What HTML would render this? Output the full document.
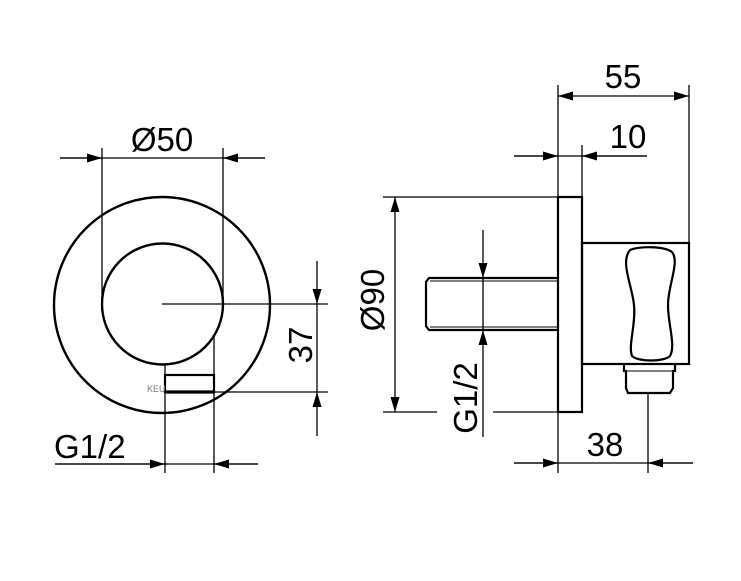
<!DOCTYPE html>
<html><head><meta charset="utf-8"><style>html,body{margin:0;padding:0;background:#fff}</style></head><body>
<svg width="741" height="576" viewBox="0 0 741 576" xmlns="http://www.w3.org/2000/svg">
<defs>
<marker id="a" viewBox="0 0 10 6" refX="10" refY="3" markerWidth="24" markerHeight="9" markerUnits="userSpaceOnUse" orient="auto"><path d="M0,0L10,3L0,6Z" fill="#000"/></marker>
</defs>
<g fill="none" stroke="#000" stroke-width="2.4">
<circle cx="162" cy="305" r="108"/>
<circle cx="162.5" cy="304" r="60.5"/>
</g>
<g stroke="#000" stroke-width="1.3" fill="none">
<!-- left view -->
<line x1="102" y1="148" x2="102" y2="304"/>
<line x1="223" y1="148" x2="223" y2="304"/>
<line x1="60" y1="158" x2="265" y2="158"/>
<line x1="60" y1="158" x2="102" y2="158" marker-end="url(#a)"/>
<line x1="265" y1="158" x2="223" y2="158" marker-end="url(#a)"/>
<line x1="162" y1="304" x2="328" y2="304"/>
<line x1="165" y1="364" x2="165" y2="473"/>
<line x1="214" y1="335" x2="214" y2="473"/>
<line x1="214" y1="392" x2="328" y2="392"/>
<line x1="317" y1="261" x2="317" y2="304" marker-end="url(#a)"/>
<line x1="317" y1="436" x2="317" y2="392" marker-end="url(#a)"/>
<line x1="317" y1="304" x2="317" y2="392"/>
<line x1="55" y1="464" x2="258" y2="464"/>
<line x1="55" y1="464" x2="165" y2="464" marker-end="url(#a)"/>
<line x1="258" y1="464" x2="214" y2="464" marker-end="url(#a)"/>
<!-- right view -->
<line x1="558" y1="85" x2="558" y2="473"/>
<line x1="689" y1="85" x2="689" y2="243"/>
<line x1="623" y1="96" x2="558" y2="96" marker-end="url(#a)"/>
<line x1="623" y1="96" x2="689" y2="96" marker-end="url(#a)"/>
<line x1="582" y1="145" x2="582" y2="197"/>
<line x1="514" y1="156" x2="647" y2="156"/>
<line x1="514" y1="156" x2="558" y2="156" marker-end="url(#a)"/>
<line x1="647" y1="156" x2="582" y2="156" marker-end="url(#a)"/>
<line x1="383" y1="197" x2="558" y2="197"/>
<line x1="383" y1="412" x2="437" y2="412"/>
<line x1="493" y1="412" x2="558" y2="412"/>
<line x1="395" y1="300" x2="395" y2="197" marker-end="url(#a)"/>
<line x1="395" y1="300" x2="395" y2="412" marker-end="url(#a)"/>
<line x1="483" y1="230" x2="483" y2="278" marker-end="url(#a)"/>
<line x1="483" y1="437" x2="483" y2="330" marker-end="url(#a)"/>
<line x1="483" y1="278" x2="483" y2="330"/>
<line x1="648" y1="393" x2="648" y2="473"/>
<line x1="514" y1="463" x2="693" y2="463"/>
<line x1="514" y1="463" x2="558" y2="463" marker-end="url(#a)"/>
<line x1="693" y1="463" x2="648" y2="463" marker-end="url(#a)"/>
</g>
<g stroke="#000" stroke-width="2.2" fill="none">
<rect x="165" y="375" width="49" height="17"/>
<line x1="165" y1="392" x2="214" y2="392" stroke-width="3.2"/>
<rect x="558" y="197" width="24" height="215"/>
<path d="M558,278H429L426,282V326L429,330H558"/>
<line x1="430" y1="281" x2="558" y2="281" stroke-width="1"/>
<line x1="430" y1="327" x2="558" y2="327" stroke-width="1"/>
<rect x="582" y="243" width="107" height="121"/>
<path d="M630,250C640,246 664,246 672,252C680,262 668,285 668,305C668,325 676,345 670,356C664,362 638,362 632,356C628,345 636,325 634,305C632,285 620,262 630,250Z"/>
<path d="M624,364V371H626V388L628,393H670L673,388V371H675V364"/>
<line x1="626" y1="371" x2="673" y2="371" stroke-width="1"/>
</g>
<g font-family="Liberation Sans, sans-serif" font-size="33" fill="#000">
<text x="162" y="151" text-anchor="middle">Ø50</text>
<text x="54" y="458">G1/2</text>
<text x="623" y="88" text-anchor="middle">55</text>
<text x="628" y="148" text-anchor="middle">10</text>
<text x="605" y="456" text-anchor="middle">38</text>
<text transform="translate(312,345) rotate(-90)" text-anchor="middle">37</text>
<text transform="translate(384,300) rotate(-90)" text-anchor="middle">Ø90</text>
<text transform="translate(477,398) rotate(-90)" text-anchor="middle">G1/2</text>
</g>
<text x="147" y="392" font-family="Liberation Sans, sans-serif" font-size="9" fill="#777">KEU</text>
</svg>
</body></html>
